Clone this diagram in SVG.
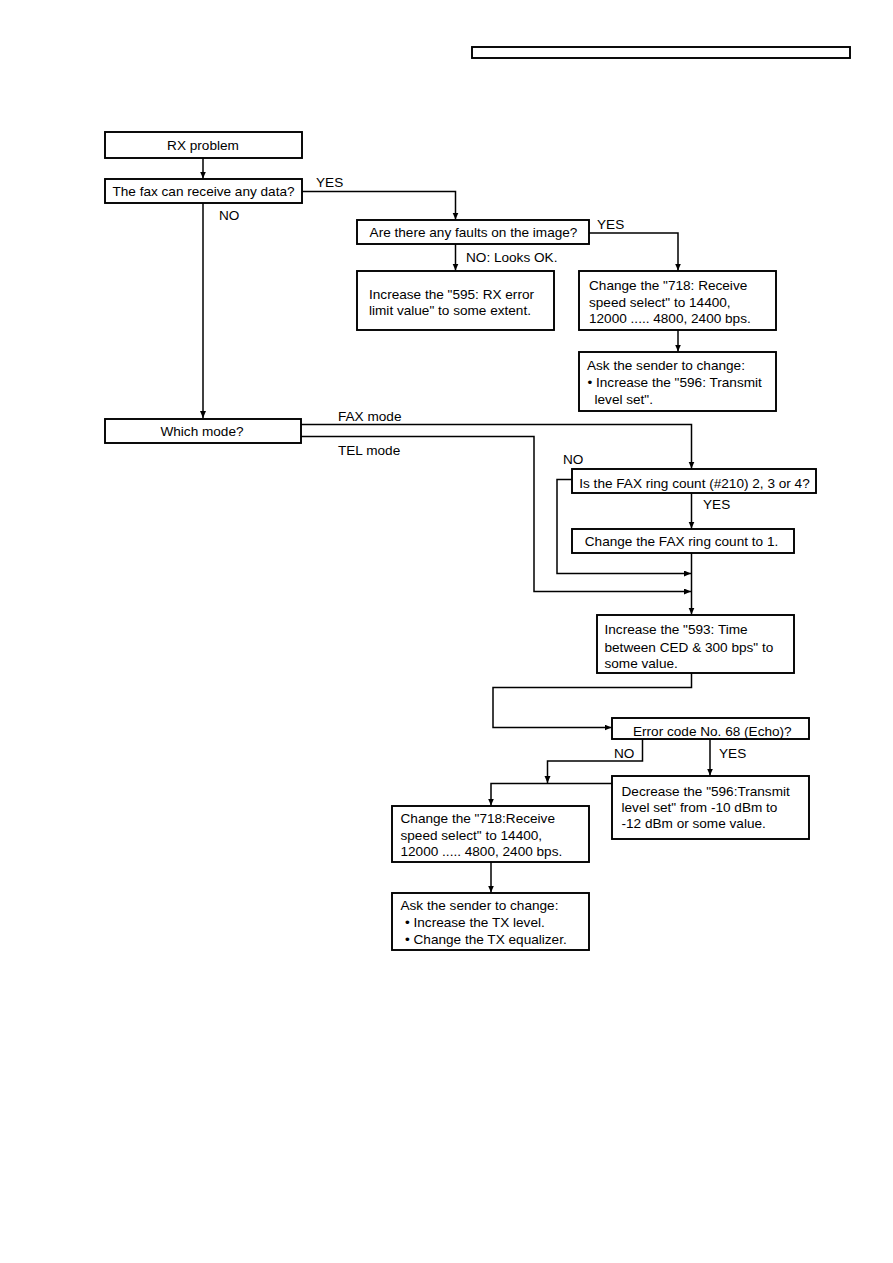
<svg xmlns="http://www.w3.org/2000/svg" width="893" height="1263" viewBox="0 0 893 1263">
<style>
.b{fill:#fff;stroke:#000;stroke-width:1.9}
.t{font-family:"Liberation Sans",Arial,sans-serif;font-size:13.6px;fill:#000}
.m{text-anchor:middle}
.c{fill:none;stroke:#000;stroke-width:1.5}
</style>
<defs>
<marker id="ah" markerUnits="userSpaceOnUse" markerWidth="8" markerHeight="7" refX="7" refY="3" orient="auto">
<path d="M0,0 L7,3 L0,6 z" fill="#000"/>
</marker>
</defs>
<rect width="893" height="1263" fill="#fff"/>
<rect x="472" y="47" width="378" height="11" class="b"/>
<g id="connectors">
<path class="c" d="M203,158 V178.5" marker-end="url(#ah)"/>
<path class="c" d="M302,191.5 H455.5 V219.5" marker-end="url(#ah)"/>
<path class="c" d="M203,203 V418" marker-end="url(#ah)"/>
<path class="c" d="M589,233 H678 V270.5" marker-end="url(#ah)"/>
<path class="c" d="M455.5,244 V270.5" marker-end="url(#ah)"/>
<path class="c" d="M678,330 V351.5" marker-end="url(#ah)"/>
<path class="c" d="M301,424.5 H691.5 V468.5" marker-end="url(#ah)"/>
<path class="c" d="M301,436.5 H534 V591.5 H691" marker-end="url(#ah)"/>
<path class="c" d="M572,479.5 H557 V573.5 H691" marker-end="url(#ah)"/>
<path class="c" d="M691.5,493.5 V528.5" marker-end="url(#ah)"/>
<path class="c" d="M691.5,553 V614.5" marker-end="url(#ah)"/>
<path class="c" d="M691.5,673 V687.5 H493 V727.5 H611.5" marker-end="url(#ah)"/>
<path class="c" d="M642.5,739 V761 H547.5 V783" marker-end="url(#ah)"/>
<path class="c" d="M612,783.5 H491 V805.5" marker-end="url(#ah)"/>
<path class="c" d="M710,739 V775.5" marker-end="url(#ah)"/>
<path class="c" d="M491,862 V892.5" marker-end="url(#ah)"/>
<text class="t" x="316" y="187">YES</text>
<text class="t" x="219" y="220">NO</text>
<text class="t" x="597" y="229">YES</text>
<text class="t" x="466" y="262">NO: Looks OK.</text>
<text class="t" x="338" y="421">FAX mode</text>
<text class="t" x="338" y="455">TEL mode</text>
<text class="t" x="563" y="464">NO</text>
<text class="t" x="703" y="509">YES</text>
<text class="t" x="614" y="758">NO</text>
<text class="t" x="719" y="758">YES</text>
</g>
<g id="rx"><rect x="105" y="132" width="197" height="26" class="b"/><text class="t m" x="203" y="150">RX problem</text></g>
<g id="fax"><rect x="105" y="179" width="197" height="24" class="b"/><text class="t m" x="203.5" y="196">The fax can receive any data?</text></g>
<g id="faults"><rect x="357" y="220" width="232" height="24" class="b"/><text class="t m" x="473.5" y="236.5">Are there any faults on the image?</text></g>
<g id="inc595"><rect x="357" y="271" width="197" height="59" class="b"/><text class="t" x="369" y="299">Increase the "595: RX error</text><text class="t" x="369" y="315">limit value" to some extent.</text></g>
<g id="chg718a"><rect x="579" y="271" width="197" height="59" class="b"/><text class="t" x="589" y="290">Change the "718: Receive</text><text class="t" x="589" y="306.5">speed select" to 14400,</text><text class="t" x="589" y="323">12000 ..... 4800, 2400 bps.</text></g>
<g id="ask1"><rect x="579" y="352" width="197" height="59" class="b"/><text class="t" x="587" y="370">Ask the sender to change:</text><text class="t" x="587.5" y="386.5">• Increase the "596: Transmit</text><text class="t" x="594.5" y="403.5">level set".</text></g>
<g id="which"><rect x="105" y="419" width="196" height="24" class="b"/><text class="t m" x="202" y="436">Which mode?</text></g>
<g id="ring"><rect x="572" y="469" width="244" height="24" class="b"/><text class="t m" x="694.5" y="487.5">Is the FAX ring count (#210) 2, 3 or 4?</text></g>
<g id="chgring"><rect x="572" y="529" width="222" height="24" class="b"/><text class="t m" x="681.5" y="546">Change the FAX ring count to 1.</text></g>
<g id="inc593"><rect x="597" y="615" width="197" height="58" class="b"/><text class="t" x="604.5" y="634">Increase the "593: Time</text><text class="t" x="604.5" y="651.5">between CED &amp; 300 bps" to</text><text class="t" x="604.5" y="667.5">some value.</text></g>
<g id="err"><rect x="612" y="718" width="197" height="21" class="b"/><text class="t" x="633" y="736">Error code No. 68 (Echo)?</text></g>
<g id="dec"><rect x="612" y="776" width="197" height="63" class="b"/><text class="t" x="621.5" y="795.5">Decrease the "596:Transmit</text><text class="t" x="621.5" y="812">level set" from -10 dBm to</text><text class="t" x="621.5" y="828">-12 dBm or some value.</text></g>
<g id="chg718b"><rect x="392" y="806" width="197" height="56" class="b"/><text class="t" x="400.5" y="822.5">Change the "718:Receive</text><text class="t" x="400.5" y="839.5">speed select" to 14400,</text><text class="t" x="400.5" y="855.5">12000 ..... 4800, 2400 bps.</text></g>
<g id="ask2"><rect x="392" y="893" width="197" height="57" class="b"/><text class="t" x="400.5" y="910">Ask the sender to change:</text><text class="t" x="405" y="926.5">• Increase the TX level.</text><text class="t" x="405" y="943.5">• Change the TX equalizer.</text></g>
</svg>
